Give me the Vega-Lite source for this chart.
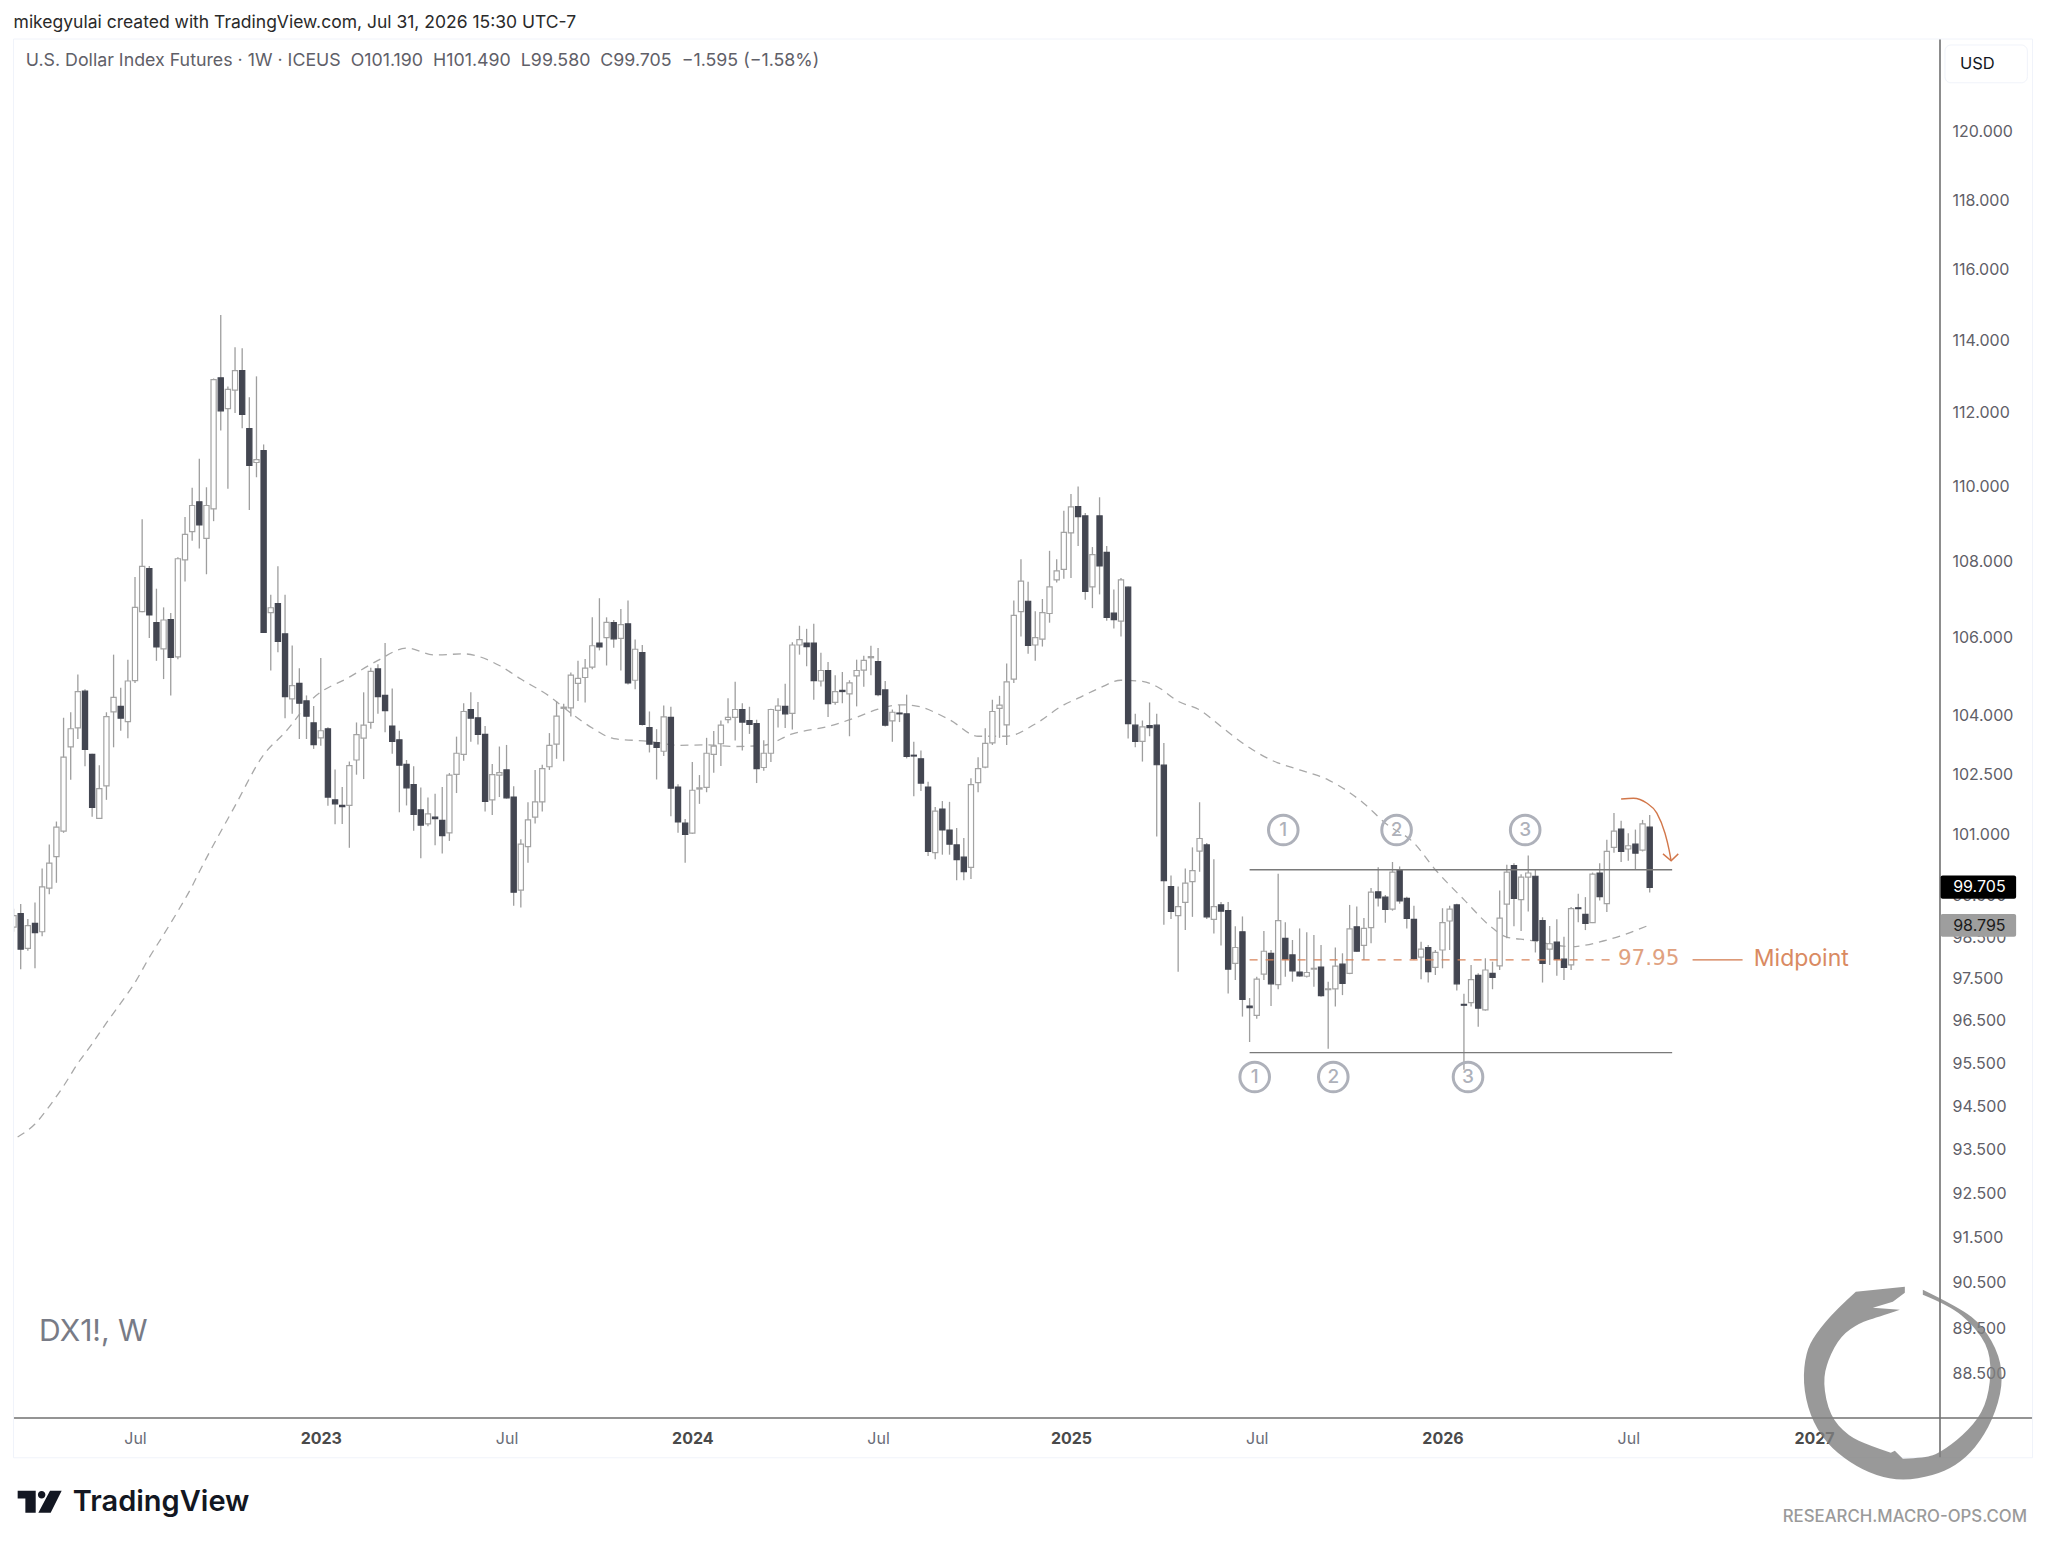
{"$schema":"https://vega.github.io/schema/vega-lite/v6.json","width":1927,"height":1378,"autosize":{"type":"none"},"padding":{"left":13,"top":40,"right":108,"bottom":129},"background":"#ffffff","view":{"stroke":null},
"datasets":{
"candles":[
{"d":"2022-03-07","o":98.74,"h":99.19,"l":98.63,"c":99.02},
{"d":"2022-03-14","o":99.07,"h":99.30,"l":97.73,"c":98.21},
{"d":"2022-03-21","o":98.23,"h":98.94,"l":98.17,"c":98.78},
{"d":"2022-03-28","o":98.83,"h":99.34,"l":97.75,"c":98.61},
{"d":"2022-04-04","o":98.63,"h":100.17,"l":98.52,"c":99.72},
{"d":"2022-04-11","o":99.69,"h":100.76,"l":99.54,"c":100.30},
{"d":"2022-04-18","o":100.46,"h":101.33,"l":99.82,"c":101.19},
{"d":"2022-04-25","o":101.09,"h":103.94,"l":101.05,"c":102.94},
{"d":"2022-05-02","o":103.20,"h":104.08,"l":102.37,"c":103.66},
{"d":"2022-05-09","o":103.68,"h":105.05,"l":103.40,"c":104.61},
{"d":"2022-05-16","o":104.62,"h":104.67,"l":102.71,"c":103.14},
{"d":"2022-05-23","o":103.01,"h":103.03,"l":101.45,"c":101.68},
{"d":"2022-05-30","o":101.41,"h":102.74,"l":101.39,"c":102.15},
{"d":"2022-06-06","o":102.22,"h":104.08,"l":101.87,"c":103.97},
{"d":"2022-06-13","o":104.09,"h":105.56,"l":103.19,"c":104.46},
{"d":"2022-06-20","o":104.23,"h":104.71,"l":103.61,"c":103.93},
{"d":"2022-06-27","o":103.84,"h":105.43,"l":103.42,"c":104.88},
{"d":"2022-07-04","o":104.89,"h":107.59,"l":104.83,"c":106.79},
{"d":"2022-07-11","o":106.68,"h":109.12,"l":106.66,"c":107.87},
{"d":"2022-07-18","o":107.81,"h":107.88,"l":105.99,"c":106.59},
{"d":"2022-07-25","o":106.39,"h":107.28,"l":105.40,"c":105.76},
{"d":"2022-08-01","o":105.71,"h":106.79,"l":104.93,"c":106.46},
{"d":"2022-08-08","o":106.47,"h":106.64,"l":104.51,"c":105.49},
{"d":"2022-08-15","o":105.50,"h":108.11,"l":105.44,"c":108.07},
{"d":"2022-08-22","o":108.04,"h":109.18,"l":107.47,"c":108.72},
{"d":"2022-08-29","o":108.79,"h":109.97,"l":108.55,"c":109.49},
{"d":"2022-09-05","o":109.59,"h":110.75,"l":108.34,"c":108.97},
{"d":"2022-09-12","o":108.61,"h":109.98,"l":107.66,"c":109.49},
{"d":"2022-09-19","o":109.40,"h":112.95,"l":109.07,"c":112.92},
{"d":"2022-09-26","o":112.97,"h":114.72,"l":111.52,"c":112.06},
{"d":"2022-10-03","o":112.12,"h":112.73,"l":109.94,"c":112.65},
{"d":"2022-10-10","o":112.63,"h":113.82,"l":112.00,"c":113.17},
{"d":"2022-10-17","o":113.17,"h":113.79,"l":111.58,"c":111.96},
{"d":"2022-10-24","o":111.57,"h":112.43,"l":109.37,"c":110.57},
{"d":"2022-10-31","o":110.65,"h":113.01,"l":110.25,"c":110.73},
{"d":"2022-11-07","o":110.97,"h":111.14,"l":106.14,"c":106.14},
{"d":"2022-11-14","o":106.65,"h":107.12,"l":105.15,"c":106.78},
{"d":"2022-11-21","o":106.89,"h":107.87,"l":105.62,"c":105.90},
{"d":"2022-11-28","o":106.10,"h":107.12,"l":103.93,"c":104.48},
{"d":"2022-12-05","o":104.42,"h":105.80,"l":104.04,"c":104.76},
{"d":"2022-12-12","o":104.82,"h":105.21,"l":103.40,"c":104.31},
{"d":"2022-12-19","o":104.37,"h":104.51,"l":103.40,"c":103.98},
{"d":"2022-12-26","o":103.81,"h":104.24,"l":103.15,"c":103.26},
{"d":"2023-01-02","o":103.43,"h":105.47,"l":103.23,"c":103.61},
{"d":"2023-01-09","o":103.66,"h":103.70,"l":101.72,"c":101.94},
{"d":"2023-01-16","o":101.87,"h":102.63,"l":101.26,"c":101.77},
{"d":"2023-01-23","o":101.73,"h":102.19,"l":101.27,"c":101.70},
{"d":"2023-01-30","o":101.73,"h":102.83,"l":100.68,"c":102.73},
{"d":"2023-02-06","o":102.87,"h":103.82,"l":102.50,"c":103.51},
{"d":"2023-02-13","o":103.42,"h":104.59,"l":102.39,"c":103.75},
{"d":"2023-02-20","o":103.82,"h":105.22,"l":103.66,"c":105.13},
{"d":"2023-02-27","o":105.19,"h":105.31,"l":104.04,"c":104.48},
{"d":"2023-03-06","o":104.51,"h":105.86,"l":103.57,"c":104.12},
{"d":"2023-03-13","o":103.73,"h":104.69,"l":103.03,"c":103.34},
{"d":"2023-03-20","o":103.38,"h":103.61,"l":101.56,"c":102.74},
{"d":"2023-03-27","o":102.76,"h":102.87,"l":101.73,"c":102.17},
{"d":"2023-04-03","o":102.25,"h":102.71,"l":101.10,"c":101.51},
{"d":"2023-04-10","o":101.62,"h":102.18,"l":100.42,"c":101.24},
{"d":"2023-04-17","o":101.27,"h":101.93,"l":101.21,"c":101.52},
{"d":"2023-04-24","o":101.44,"h":102.02,"l":100.74,"c":101.40},
{"d":"2023-05-01","o":101.36,"h":102.19,"l":100.54,"c":100.98},
{"d":"2023-05-08","o":101.05,"h":102.54,"l":100.85,"c":102.49},
{"d":"2023-05-15","o":102.51,"h":103.46,"l":102.04,"c":103.04},
{"d":"2023-05-22","o":103.01,"h":104.31,"l":102.85,"c":104.10},
{"d":"2023-05-29","o":104.15,"h":104.59,"l":103.33,"c":103.93},
{"d":"2023-06-05","o":103.94,"h":104.34,"l":103.26,"c":103.52},
{"d":"2023-06-12","o":103.52,"h":103.73,"l":101.58,"c":101.83},
{"d":"2023-06-19","o":101.87,"h":102.77,"l":101.49,"c":102.50},
{"d":"2023-06-26","o":102.49,"h":103.21,"l":101.94,"c":102.55},
{"d":"2023-07-03","o":102.62,"h":103.25,"l":101.90,"c":101.92},
{"d":"2023-07-10","o":101.94,"h":102.21,"l":99.26,"c":99.59},
{"d":"2023-07-17","o":99.64,"h":100.89,"l":99.22,"c":100.77},
{"d":"2023-07-24","o":100.71,"h":101.81,"l":100.31,"c":101.37},
{"d":"2023-07-31","o":101.44,"h":102.62,"l":101.28,"c":101.82},
{"d":"2023-08-07","o":101.82,"h":102.75,"l":101.58,"c":102.65},
{"d":"2023-08-14","o":102.70,"h":103.55,"l":102.62,"c":103.24},
{"d":"2023-08-21","o":103.27,"h":104.36,"l":102.90,"c":103.98},
{"d":"2023-08-28","o":104.18,"h":104.30,"l":102.84,"c":104.21},
{"d":"2023-09-04","o":104.19,"h":105.10,"l":103.97,"c":105.03},
{"d":"2023-09-11","o":104.82,"h":105.40,"l":104.37,"c":104.95},
{"d":"2023-09-18","o":104.97,"h":105.45,"l":104.33,"c":105.21},
{"d":"2023-09-25","o":105.24,"h":106.53,"l":105.18,"c":105.79},
{"d":"2023-10-02","o":105.86,"h":107.03,"l":105.67,"c":105.76},
{"d":"2023-10-09","o":106.00,"h":106.53,"l":105.28,"c":106.40},
{"d":"2023-10-16","o":106.39,"h":106.46,"l":105.74,"c":105.97},
{"d":"2023-10-23","o":105.98,"h":106.75,"l":105.15,"c":106.34},
{"d":"2023-10-30","o":106.36,"h":106.97,"l":104.79,"c":104.83},
{"d":"2023-11-06","o":104.90,"h":105.95,"l":104.67,"c":105.70},
{"d":"2023-11-13","o":105.61,"h":105.81,"l":103.74,"c":103.77},
{"d":"2023-11-20","o":103.69,"h":104.10,"l":103.06,"c":103.27},
{"d":"2023-11-27","o":103.31,"h":103.65,"l":102.38,"c":103.19},
{"d":"2023-12-04","o":103.09,"h":104.25,"l":102.97,"c":103.96},
{"d":"2023-12-11","o":103.95,"h":104.22,"l":101.46,"c":102.16},
{"d":"2023-12-18","o":102.19,"h":102.26,"l":101.05,"c":101.32},
{"d":"2023-12-25","o":101.29,"h":101.39,"l":100.31,"c":101.01},
{"d":"2024-01-01","o":101.04,"h":102.82,"l":101.02,"c":102.11},
{"d":"2024-01-08","o":102.14,"h":102.49,"l":101.77,"c":102.17},
{"d":"2024-01-15","o":102.18,"h":103.43,"l":102.06,"c":103.04},
{"d":"2024-01-22","o":103.01,"h":103.60,"l":102.55,"c":103.22},
{"d":"2024-01-29","o":103.28,"h":103.87,"l":102.72,"c":103.75},
{"d":"2024-02-05","o":103.89,"h":104.44,"l":103.80,"c":103.95},
{"d":"2024-02-12","o":103.95,"h":104.86,"l":103.36,"c":104.15},
{"d":"2024-02-19","o":104.15,"h":104.31,"l":103.11,"c":103.83},
{"d":"2024-02-26","o":103.87,"h":104.22,"l":103.53,"c":103.77},
{"d":"2024-03-04","o":103.79,"h":103.89,"l":102.29,"c":102.65},
{"d":"2024-03-11","o":102.68,"h":103.37,"l":102.60,"c":103.04},
{"d":"2024-03-18","o":103.04,"h":104.17,"l":102.82,"c":104.15},
{"d":"2024-03-25","o":104.13,"h":104.44,"l":103.69,"c":104.24},
{"d":"2024-04-01","o":104.23,"h":104.81,"l":103.68,"c":104.04},
{"d":"2024-04-08","o":104.05,"h":105.88,"l":103.64,"c":105.81},
{"d":"2024-04-15","o":105.81,"h":106.31,"l":105.56,"c":105.95},
{"d":"2024-04-22","o":105.86,"h":106.23,"l":105.26,"c":105.77},
{"d":"2024-04-29","o":105.86,"h":106.36,"l":104.40,"c":104.89},
{"d":"2024-05-06","o":104.88,"h":105.61,"l":104.74,"c":105.15},
{"d":"2024-05-13","o":105.15,"h":105.37,"l":103.96,"c":104.30},
{"d":"2024-05-20","o":104.33,"h":105.03,"l":104.27,"c":104.61},
{"d":"2024-05-27","o":104.64,"h":105.11,"l":104.31,"c":104.61},
{"d":"2024-06-03","o":104.55,"h":104.90,"l":103.47,"c":104.83},
{"d":"2024-06-10","o":105.01,"h":105.43,"l":104.23,"c":105.15},
{"d":"2024-06-17","o":105.16,"h":105.53,"l":104.73,"c":105.41},
{"d":"2024-06-24","o":105.48,"h":105.79,"l":105.03,"c":105.51},
{"d":"2024-07-01","o":105.38,"h":105.73,"l":104.49,"c":104.53},
{"d":"2024-07-08","o":104.65,"h":104.88,"l":103.72,"c":103.75},
{"d":"2024-07-15","o":103.86,"h":104.15,"l":103.33,"c":104.08},
{"d":"2024-07-22","o":104.06,"h":104.27,"l":103.83,"c":104.04},
{"d":"2024-07-29","o":104.04,"h":104.53,"l":102.91,"c":102.96},
{"d":"2024-08-05","o":102.99,"h":103.33,"l":101.96,"c":102.97},
{"d":"2024-08-12","o":102.90,"h":103.11,"l":102.09,"c":102.29},
{"d":"2024-08-19","o":102.19,"h":102.32,"l":100.48,"c":100.59},
{"d":"2024-08-26","o":100.56,"h":101.69,"l":100.40,"c":101.59},
{"d":"2024-09-02","o":101.64,"h":101.84,"l":100.51,"c":101.12},
{"d":"2024-09-09","o":101.12,"h":101.82,"l":100.51,"c":100.77},
{"d":"2024-09-16","o":100.75,"h":101.17,"l":99.88,"c":100.39},
{"d":"2024-09-23","o":100.45,"h":100.92,"l":99.88,"c":100.09},
{"d":"2024-09-30","o":100.20,"h":102.41,"l":99.91,"c":102.25},
{"d":"2024-10-07","o":102.30,"h":102.94,"l":102.06,"c":102.65},
{"d":"2024-10-14","o":102.69,"h":103.67,"l":102.66,"c":103.29},
{"d":"2024-10-21","o":103.30,"h":104.40,"l":103.25,"c":104.10},
{"d":"2024-10-28","o":104.18,"h":104.50,"l":103.43,"c":104.26},
{"d":"2024-11-04","o":103.76,"h":105.33,"l":103.25,"c":104.86},
{"d":"2024-11-11","o":104.93,"h":106.97,"l":104.83,"c":106.58},
{"d":"2024-11-18","o":106.68,"h":108.06,"l":106.03,"c":107.48},
{"d":"2024-11-25","o":106.95,"h":107.46,"l":105.58,"c":105.80},
{"d":"2024-12-02","o":105.81,"h":106.69,"l":105.40,"c":106.00},
{"d":"2024-12-09","o":105.96,"h":107.01,"l":105.77,"c":106.65},
{"d":"2024-12-16","o":106.63,"h":108.28,"l":106.39,"c":107.33},
{"d":"2024-12-23","o":107.51,"h":108.06,"l":107.44,"c":107.75},
{"d":"2024-12-30","o":107.79,"h":109.35,"l":107.54,"c":108.77},
{"d":"2025-01-06","o":108.76,"h":109.80,"l":107.56,"c":109.45},
{"d":"2025-01-13","o":109.46,"h":110.00,"l":108.41,"c":109.19},
{"d":"2025-01-20","o":109.21,"h":109.29,"l":106.99,"c":107.21},
{"d":"2025-01-27","o":107.33,"h":108.38,"l":106.77,"c":108.18},
{"d":"2025-02-03","o":109.21,"h":109.71,"l":107.13,"c":107.88},
{"d":"2025-02-10","o":108.24,"h":108.41,"l":106.44,"c":106.53},
{"d":"2025-02-17","o":106.64,"h":107.26,"l":106.24,"c":106.47},
{"d":"2025-02-24","o":106.43,"h":107.56,"l":106.03,"c":107.51},
{"d":"2025-03-03","o":107.32,"h":107.34,"l":103.41,"c":103.79},
{"d":"2025-03-10","o":103.75,"h":104.04,"l":103.19,"c":103.34},
{"d":"2025-03-17","o":103.34,"h":103.87,"l":102.83,"c":103.71},
{"d":"2025-03-24","o":103.74,"h":104.33,"l":103.47,"c":103.69},
{"d":"2025-03-31","o":103.75,"h":104.04,"l":100.96,"c":102.75},
{"d":"2025-04-07","o":102.74,"h":103.30,"l":98.80,"c":99.87},
{"d":"2025-04-14","o":99.73,"h":100.00,"l":98.94,"c":99.12},
{"d":"2025-04-21","o":99.02,"h":99.73,"l":97.67,"c":99.24},
{"d":"2025-04-28","o":99.34,"h":100.17,"l":98.67,"c":99.81},
{"d":"2025-05-05","o":99.85,"h":100.69,"l":98.99,"c":100.12},
{"d":"2025-05-12","o":100.60,"h":101.81,"l":100.09,"c":100.91},
{"d":"2025-05-19","o":100.75,"h":100.80,"l":98.94,"c":98.99},
{"d":"2025-05-26","o":98.93,"h":100.40,"l":98.59,"c":99.24},
{"d":"2025-06-02","o":99.28,"h":99.35,"l":98.30,"c":99.13},
{"d":"2025-06-09","o":99.14,"h":99.35,"l":97.15,"c":97.73},
{"d":"2025-06-16","o":97.87,"h":98.76,"l":97.47,"c":98.25},
{"d":"2025-06-23","o":98.63,"h":99.00,"l":96.60,"c":97.01},
{"d":"2025-06-30","o":96.85,"h":97.04,"l":96.00,"c":96.81},
{"d":"2025-07-07","o":96.63,"h":97.55,"l":96.55,"c":97.49},
{"d":"2025-07-14","o":97.61,"h":98.65,"l":97.47,"c":98.16},
{"d":"2025-07-21","o":98.11,"h":98.19,"l":96.85,"c":97.38},
{"d":"2025-07-28","o":97.36,"h":100.04,"l":97.25,"c":98.90},
{"d":"2025-08-04","o":98.47,"h":98.86,"l":97.55,"c":97.97},
{"d":"2025-08-11","o":98.07,"h":98.43,"l":97.43,"c":97.69},
{"d":"2025-08-18","o":97.66,"h":98.71,"l":97.55,"c":97.57},
{"d":"2025-08-25","o":97.56,"h":98.62,"l":97.53,"c":97.65},
{"d":"2025-09-01","o":97.73,"h":98.55,"l":97.31,"c":97.75},
{"d":"2025-09-08","o":97.78,"h":98.31,"l":97.07,"c":97.10},
{"d":"2025-09-15","o":97.24,"h":97.43,"l":95.84,"c":97.26},
{"d":"2025-09-22","o":97.26,"h":98.25,"l":96.84,"c":97.80},
{"d":"2025-09-29","o":97.85,"h":98.11,"l":97.11,"c":97.39},
{"d":"2025-10-06","o":97.63,"h":99.28,"l":97.61,"c":98.70},
{"d":"2025-10-13","o":98.75,"h":99.24,"l":98.15,"c":98.16},
{"d":"2025-10-20","o":98.30,"h":98.96,"l":97.95,"c":98.71},
{"d":"2025-10-27","o":98.73,"h":99.69,"l":98.35,"c":99.59},
{"d":"2025-11-03","o":99.60,"h":100.20,"l":99.24,"c":99.45},
{"d":"2025-11-10","o":99.47,"h":99.52,"l":98.85,"c":99.17},
{"d":"2025-11-17","o":99.18,"h":100.33,"l":99.14,"c":100.08},
{"d":"2025-11-24","o":100.14,"h":100.22,"l":99.31,"c":99.38},
{"d":"2025-12-01","o":99.44,"h":99.48,"l":98.71,"c":98.95},
{"d":"2025-12-08","o":98.93,"h":99.26,"l":97.95,"c":97.99},
{"d":"2025-12-15","o":98.02,"h":98.39,"l":97.49,"c":98.21},
{"d":"2025-12-22","o":98.25,"h":98.31,"l":97.41,"c":97.67},
{"d":"2025-12-29","o":97.77,"h":98.19,"l":97.59,"c":98.13},
{"d":"2026-01-05","o":98.19,"h":99.20,"l":97.75,"c":98.85},
{"d":"2026-01-12","o":98.89,"h":99.26,"l":98.19,"c":99.18},
{"d":"2026-01-19","o":99.28,"h":99.31,"l":97.22,"c":97.38},
{"d":"2026-01-26","o":96.89,"h":97.14,"l":95.35,"c":96.87},
{"d":"2026-02-02","o":96.93,"h":97.83,"l":96.84,"c":97.48},
{"d":"2026-02-09","o":97.58,"h":97.63,"l":96.36,"c":96.80},
{"d":"2026-02-16","o":96.76,"h":97.99,"l":96.74,"c":97.71},
{"d":"2026-02-23","o":97.63,"h":97.91,"l":97.25,"c":97.53},
{"d":"2026-03-02","o":97.81,"h":99.63,"l":97.71,"c":98.96},
{"d":"2026-03-09","o":99.30,"h":100.26,"l":98.47,"c":100.08},
{"d":"2026-03-16","o":100.24,"h":100.30,"l":98.76,"c":99.44},
{"d":"2026-03-23","o":99.41,"h":100.03,"l":98.65,"c":99.96},
{"d":"2026-03-30","o":99.96,"h":100.49,"l":99.12,"c":100.06},
{"d":"2026-04-06","o":99.98,"h":100.14,"l":98.13,"c":98.42},
{"d":"2026-04-13","o":98.90,"h":98.98,"l":97.41,"c":97.87},
{"d":"2026-04-20","o":98.21,"h":98.77,"l":97.83,"c":98.34},
{"d":"2026-04-27","o":98.38,"h":98.93,"l":97.57,"c":97.97},
{"d":"2026-05-04","o":97.97,"h":98.51,"l":97.47,"c":97.77},
{"d":"2026-05-11","o":97.83,"h":99.23,"l":97.71,"c":99.19},
{"d":"2026-05-18","o":99.21,"h":99.55,"l":98.86,"c":99.19},
{"d":"2026-05-25","o":99.05,"h":99.47,"l":98.67,"c":98.83},
{"d":"2026-06-01","o":98.85,"h":100.07,"l":98.84,"c":100.03},
{"d":"2026-06-08","o":100.06,"h":100.30,"l":99.39,"c":99.48},
{"d":"2026-06-15","o":99.31,"h":100.88,"l":99.11,"c":100.59},
{"d":"2026-06-22","o":100.69,"h":101.54,"l":100.56,"c":101.09},
{"d":"2026-06-29","o":101.14,"h":101.35,"l":100.33,"c":100.59},
{"d":"2026-07-06","o":100.65,"h":101.04,"l":100.36,"c":100.73},
{"d":"2026-07-13","o":100.77,"h":101.13,"l":100.14,"c":100.55},
{"d":"2026-07-20","o":100.62,"h":101.37,"l":100.59,"c":101.27},
{"d":"2026-07-27","o":101.19,"h":101.49,"l":99.58,"c":99.705}
],
"ma":[
{"d":"2022-03-11","p":93.79},{"d":"2022-03-28","p":94.09},{"d":"2022-04-11","p":94.50},{"d":"2022-04-25","p":94.97},{"d":"2022-05-09","p":95.50},{"d":"2022-05-23","p":95.96},{"d":"2022-06-06","p":96.45},{"d":"2022-06-20","p":96.92},{"d":"2022-07-04","p":97.41},{"d":"2022-07-18","p":98.01},{"d":"2022-08-01","p":98.56},{"d":"2022-08-15","p":99.13},{"d":"2022-08-29","p":99.74},{"d":"2022-09-05","p":100.09},{"d":"2022-10-10","p":101.72},{"d":"2022-11-07","p":103.0},{"d":"2022-11-28","p":103.57},{"d":"2022-12-26","p":104.45},{"d":"2023-01-30","p":104.98},{"d":"2023-02-27","p":105.41},{"d":"2023-03-27","p":105.73},{"d":"2023-04-24","p":105.55},{"d":"2023-05-22","p":105.58},{"d":"2023-06-26","p":105.28},{"d":"2023-07-17","p":104.93},{"d":"2023-08-14","p":104.49},{"d":"2023-09-04","p":104.06},{"d":"2023-09-25","p":103.68},{"d":"2023-10-16","p":103.41},{"d":"2023-11-20","p":103.34},{"d":"2023-12-18","p":103.24},{"d":"2024-01-15","p":103.25},{"d":"2024-02-12","p":103.21},{"d":"2024-03-11","p":103.24},{"d":"2024-04-08","p":103.53},{"d":"2024-05-13","p":103.72},{"d":"2024-06-10","p":103.95},{"d":"2024-07-01","p":104.16},{"d":"2024-07-22","p":104.27},{"d":"2024-08-05","p":104.25},{"d":"2024-09-09","p":103.89},{"d":"2024-10-07","p":103.47},{"d":"2024-11-04","p":103.47},{"d":"2024-12-02","p":103.78},{"d":"2024-12-30","p":104.27},{"d":"2025-01-13","p":104.44},{"d":"2025-02-03","p":104.70},{"d":"2025-02-24","p":104.90},{"d":"2025-03-17","p":104.87},{"d":"2025-03-31","p":104.74},{"d":"2025-04-21","p":104.36},{"d":"2025-05-12","p":104.14},{"d":"2025-06-02","p":103.72},{"d":"2025-06-23","p":103.30},{"d":"2025-07-21","p":102.87},{"d":"2025-08-18","p":102.62},{"d":"2025-09-15","p":102.37},{"d":"2025-10-20","p":101.78},{"d":"2025-11-10","p":101.29},{"d":"2025-12-08","p":100.80},{"d":"2025-12-29","p":100.14},{"d":"2026-01-26","p":99.41},{"d":"2026-02-23","p":98.72},{"d":"2026-03-09","p":98.50},{"d":"2026-03-30","p":98.43},{"d":"2026-05-11","p":98.27},{"d":"2026-06-15","p":98.43},{"d":"2026-07-27","p":98.795}
]
},
"encoding":{"x":{"field":"d","type":"temporal","title":null,"scale":{"type":"utc","padding":0,"domain":["2022-03-06T11:00:00Z","2027-05-07T10:00:00Z"]},
"axis":{"orient":"bottom","domain":false,"ticks":false,"grid":false,"labelPadding":12,"labelFont":"Inter","labelFontSize":16,"labelOverlap":false,"labelFlush":false,"labelBound":false,
"values":[{"year":2022,"month":7,"date":4,"utc":true},{"year":2023,"month":1,"date":2,"utc":true},{"year":2023,"month":7,"date":3,"utc":true},{"year":2024,"month":1,"date":1,"utc":true},{"year":2024,"month":7,"date":1,"utc":true},{"year":2025,"month":1,"date":6,"utc":true},{"year":2025,"month":7,"date":7,"utc":true},{"year":2026,"month":1,"date":5,"utc":true},{"year":2026,"month":7,"date":6,"utc":true},{"year":2027,"month":1,"date":4,"utc":true}],
"labelExpr":"utcmonth(datum.value)==0 ? ''+utcyear(datum.value) : 'Jul'",
"labelFontWeight":{"condition":{"test":"utcmonth(datum.value)==0","value":"bold"},"value":"normal"},
"labelColor":{"condition":{"test":"utcmonth(datum.value)==0","value":"#4a4a4a"},"value":"#6a6d78"}}},
"y":{"field":"p","type":"quantitative","title":null,"scale":{"type":"log","padding":0,"domain":[87.55,122.72],"nice":false,"zero":false},
"axis":{"orient":"right","domain":false,"ticks":false,"grid":false,"labelPadding":12,"labelFont":"Inter","labelFontSize":16,"labelColor":"#5f6068","labelAlign":"left","labelOverlap":false,"labelFlush":false,"labelBound":false,"format":".3f","values":[120,118,116,114,112,110,108,106,104,102.5,101,99.5,98.5,97.5,96.5,95.5,94.5,93.5,92.5,91.5,90.5,89.5,88.5]}}},
"layer":[
{"data":{"name":"ma"},"mark":{"type":"line","color":"#a8a8a8","strokeWidth":1.3,"strokeDash":[8,6],"interpolate":"monotone","clip":true}},
{"data":{"name":"candles"},"mark":{"type":"rule","color":"#9e9e9e","strokeWidth":1.3,"clip":true},
"encoding":{"y":{"field":"l","type":"quantitative","title":null},"y2":{"field":"h"}}},
{"data":{"name":"candles"},"mark":{"type":"bar","size":5.2,"orient":"vertical","strokeWidth":1.2,"clip":true},
"encoding":{"y":{"field":"o","type":"quantitative","title":null},"y2":{"field":"c"},
"fill":{"condition":{"test":"datum.c>=datum.o","value":"#ffffff"},"value":"#434651"},
"stroke":{"condition":[{"test":"datum.d=='2023-09-11'","value":"#434651"},{"test":"datum.c>=datum.o","value":"#a3a3a3"}],"value":"#434651"}}},
{"data":{"values":[{"d":"2025-06-30","e":"2026-08-18","p":100.14},{"d":"2025-06-30","e":"2026-08-18","p":95.75}]},"mark":{"type":"rule","color":"#7a7a7a","strokeWidth":1.3},
"encoding":{"x2":{"field":"e"}}},
{"data":{"values":[{"d":"2025-06-30","e":"2026-06-18","p":97.95}]},"mark":{"type":"rule","color":"#d8835a","strokeWidth":1.3,"strokeDash":[8,8]},
"encoding":{"x2":{"field":"e"}}},
{"data":{"values":[{"d":"2026-09-07","e":"2026-10-26","p":97.95}]},"mark":{"type":"rule","color":"#d2774a","strokeWidth":1.3},
"encoding":{"x2":{"field":"e"}}},
{"data":{"values":[{"d":"2026-07-26","p":97.97,"t":"97.95"}]},"mark":{"type":"text","font":"DejaVu Sans","fontSize":21.5,"color":"#e0a17f","align":"center","baseline":"middle"},
"encoding":{"text":{"field":"t"}}},
{"data":{"values":[{"d":"2026-11-06","p":97.98,"t":"Midpoint"}]},"mark":{"type":"text","font":"Inter","fontSize":23,"color":"#d98a62","align":"left","baseline":"middle"},
"encoding":{"text":{"field":"t"}}},
{"data":{"name":"circles","values":[{"d":"2025-08-02","p":101.12,"t":"1"},{"d":"2025-11-21","p":101.12,"t":"2"},{"d":"2026-03-27","p":101.12,"t":"3"},{"d":"2025-07-05","p":95.18,"t":"1"},{"d":"2025-09-20","p":95.18,"t":"2"},{"d":"2026-01-30","p":95.18,"t":"3"}]},"mark":{"type":"point","shape":"circle","size":876,"filled":false,"color":"#aeb1ba","strokeWidth":3,"opacity":1}},
{"data":{"name":"circles"},"mark":{"type":"text","font":"Inter","fontSize":19,"fontWeight":500,"color":"#aeb1ba","align":"center","baseline":"middle"},
"encoding":{"text":{"field":"t"}}},
{"data":{"values":[{"d":"2026-06-29","p":101.89},{"d":"2026-07-11","p":101.91},{"d":"2026-07-24","p":101.79},{"d":"2026-08-03","p":101.54},{"d":"2026-08-11","p":101.04},{"d":"2026-08-15","p":100.63},{"d":"2026-08-17","p":100.36}]},"mark":{"type":"line","color":"#d2774a","strokeWidth":1.4,"interpolate":"monotone"}},
{"data":{"values":[{"d":"2026-08-09","p":100.53},{"d":"2026-08-17","p":100.36},{"d":"2026-08-24","p":100.53}]},"mark":{"type":"line","color":"#d2774a","strokeWidth":1.4}},
{"data":{"values":[{"d":"2027-05-07T10:00:00Z","p":122.75,"q":86.70}]},"mark":{"type":"rule","color":"#707070","strokeWidth":1.6},
"encoding":{"y2":{"field":"q"}}},
{"data":{"values":[{"d":"2022-03-07","e":"2027-08-06","p":87.55}]},"mark":{"type":"rule","color":"#707070","strokeWidth":1.6},
"encoding":{"x2":{"field":"e"}}},
{"data":{"values":[{"d":"2022-03-07","e":"2027-08-06","p":122.75},{"d":"2022-03-07","e":"2027-08-06","p":86.70}]},"mark":{"type":"rule","color":"#f0f3fa","strokeWidth":1},
"encoding":{"x2":{"field":"e"}}},
{"data":{"values":[{"d":"2027-08-06","p":122.75,"q":86.70},{"d":"2022-03-07","p":122.75,"q":86.70}]},"mark":{"type":"rule","color":"#f0f3fa","strokeWidth":1},
"encoding":{"y2":{"field":"q"}}},
{"data":{"values":[{"d":"2027-05-12T07:00:00Z","e":"2027-08-01","p":122.57,"q":121.44}]},"mark":{"type":"rect","cornerRadius":6,"fill":"#ffffff","stroke":"#f0f3fa","strokeWidth":1},
"encoding":{"x2":{"field":"e"},"y2":{"field":"q"}}},
{"data":{"values":[{"d":"2027-05-08","e":"2027-07-21","p":100.0,"q":99.43,"k":"#000000"},{"d":"2027-05-08","e":"2027-07-21","p":99.06,"q":98.51,"k":"#9e9e9e"}]},"mark":{"type":"rect","cornerRadius":2},
"encoding":{"x2":{"field":"e"},"y2":{"field":"q"},"fill":{"field":"k","type":"nominal","scale":null}}},
{"data":{"values":[{"d":"2027-06-15","p":99.705,"t":"99.705","k":"#ffffff"},{"d":"2027-06-15","p":98.78,"t":"98.795","k":"#1a1a1a"}]},"mark":{"type":"text","font":"Inter","fontSize":16,"align":"center","baseline":"middle"},
"encoding":{"text":{"field":"t"},"color":{"field":"k","type":"nominal","scale":null}}},
{"data":{"values":[{"d":"2022-03-07","p":123.24,"t":"mikegyulai created with TradingView.com, Jul 31, 2026 15:30 UTC-7"}]},"mark":{"type":"text","font":"Inter","fontSize":17.5,"color":"#2a2a2a","align":"left","baseline":"middle"},
"encoding":{"text":{"field":"t"}}},
{"data":{"values":[{"d":"2022-03-19","p":122.08,"t":"U.S. Dollar Index Futures · 1W · ICEUS\u00a0\u00a0O101.190\u00a0\u00a0H101.490\u00a0\u00a0L99.580\u00a0\u00a0C99.705\u00a0\u00a0−1.595 (−1.58%)"}]},"mark":{"type":"text","font":"Inter","fontSize":17.8,"color":"#5f6068","align":"left","baseline":"middle"},
"encoding":{"text":{"field":"t"}}},
{"data":{"values":[{"d":"2027-06-13","p":122.0,"t":"USD"}]},"mark":{"type":"text","font":"Inter","fontSize":16.5,"color":"#131722","align":"center","baseline":"middle"},
"encoding":{"text":{"field":"t"}}},
{"data":{"values":[{"d":"2022-04-01","p":89.42,"t":"DX1!, W"}]},"mark":{"type":"text","font":"Inter","fontSize":30,"color":"#787b86","align":"left","baseline":"middle"},
"encoding":{"text":{"field":"t"}}},
{"data":{"values":[{"d":"2022-05-04","p":85.77,"t":"TradingView"}]},"mark":{"type":"text","font":"Inter","fontSize":29,"fontWeight":600,"color":"#131722","align":"left","baseline":"middle"},
"encoding":{"text":{"field":"t"}}},
{"data":{"values":[{"d":"2022-04-01T14:00:00Z","p":85.77}]},"mark":{"type":"point","filled":true,"size":1936,"color":"#131722","opacity":1,"shape":"M-1 -.5L-.18 -.5L-.18 .5L-.65 .5L-.65 -.15L-1 -.15Z M.26 -.32A.17 .17 0 1 1 -.08 -.32A.17 .17 0 1 1 .26 -.32Z M.47 -.5L1 -.5L.5 .5L-.06 .5Z"}},
{"data":{"values":[{"d":"2027-04-01","p":88.31}]},"mark":{"type":"point","filled":true,"size":40000,"color":"#7f7f7f","opacity":0.8,"shape":"M.02 -.96L-.47 -.91Q-.67 -.73 -.775 -.605Q-.88 -.48 -.925 -.39Q-.97 -.3 -.985 -.15Q-1 0 -.965 .165Q-.93 .33 -.85 .465Q-.77 .6 -.65 .7Q-.53 .8 -.4 .865Q-.27 .93 -.135 .955Q0 .98 .15 .955Q.3 .93 .415 .88Q.53 .83 .63 .74Q.73 .65 .815 .51Q.9 .37 .95 .2Q1 .03 .985 -.12Q.97 -.27 .885 -.42Q.8 -.57 .685 -.66Q.57 -.75 .2 -.93L.2 -.88Q.47 -.77 .585 -.675Q.7 -.58 .785 -.455Q.87 -.33 .875 -.165Q.88 0 .84 .15Q.8 .3 .7 .415Q.6 .53 .485 .615Q.37 .7 .3 .725Q.23 .75 0 .76L-.08 .68L-.12 .7Q-.33 .63 -.44 .58Q-.55 .53 -.64 .43Q-.73 .33 -.765 .165Q-.8 0 -.775 -.115Q-.75 -.23 -.685 -.35Q-.62 -.47 -.525 -.535Q-.43 -.6 -.35 -.625Q-.27 -.65 -.03 -.73L-.3 -.75L-.1 -.81L.02 -.9Z"}},
{"data":{"values":[{"d":"2027-04-03","p":85.46,"t":"RESEARCH.MACRO-OPS.COM"}]},"mark":{"type":"text","font":"Inter","fontSize":16.8,"fontWeight":500,"color":"#9a9a9a","align":"center","baseline":"middle"},
"encoding":{"text":{"field":"t"}}}
]}
